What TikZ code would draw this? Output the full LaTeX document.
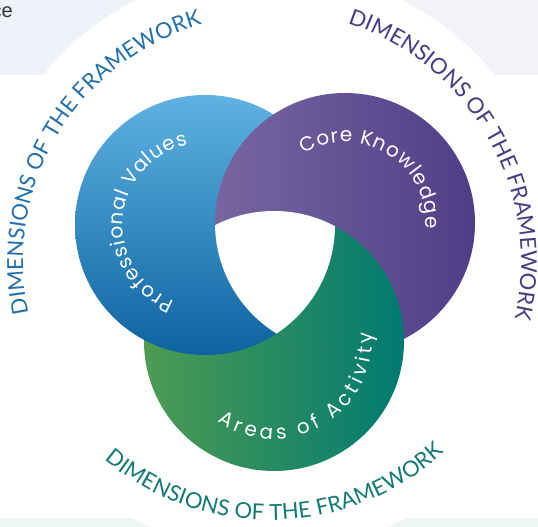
\documentclass[tikz,border=0pt]{standalone}
\usepackage{fontspec}
\setmainfont{Liberation Sans}
\newfontfamily\ringfont{Poppins}
\newfontfamily\dimfont{Lato}
\usetikzlibrary{decorations.text}
\definecolor{panelL}{HTML}{EDF3F9}
\definecolor{panelR}{HTML}{F3F2F8}
\definecolor{panelB}{HTML}{EDF6F4}
\definecolor{blueT}{HTML}{5FB2E2}
\definecolor{blueB}{HTML}{0C63A0}
\definecolor{purpL}{HTML}{7866A2}
\definecolor{purpR}{HTML}{4F3E86}
\definecolor{greenL}{HTML}{4E9B52}
\definecolor{greenR}{HTML}{007A72}
\definecolor{dimblue}{HTML}{2470AA}
\definecolor{dimpurple}{HTML}{4A3B82}
\definecolor{dimteal}{HTML}{137A74}
\definecolor{cegray}{HTML}{333333}
\tikzset{
  ringlabel/.style={decorate, decoration={text along path, text align={fit to path}, text color=white, text={|\ringfont\fontsize{20}{24}\selectfont|#1}}},
  dimlabel/.style 2 args={decorate, decoration={text along path, text align={fit to path}, text color=#1, text={|\dimfont\fontsize{22}{26}\selectfont|#2}}},
}
\begin{document}
\begin{tikzpicture}[x=1pt,y=1pt]
\useasboundingbox (0,0) rectangle (538,527);
\fill[white] (0,0) rectangle (538,527);
\fill[panelL] (0,452) rectangle (269,527);
\fill[panelR] (269,452) rectangle (538,527);
\fill[panelB] (0,0) rectangle (538,9);
\node[anchor=base east, inner sep=0pt, text=cegray, font=\fontsize{20}{22}\selectfont] (ce) at (13,509) {ce};
\fill[white] (269,267) circle (292);
\coordinate (B) at (205,302);
\coordinate (P) at (345,304);
\coordinate (G) at (274,186);
\coordinate (O) at (270,265);
% rings
\shade[left color=greenL, right color=greenR] (G) circle (130);
\shade[top color=blueT, bottom color=blueB] (B) circle (130);
\shade[left color=purpL, right color=purpR] (P) circle (130);
\begin{scope}
  \clip (P) circle (130);
  \shade[left color=greenL, right color=greenR] (G) circle (130);
\end{scope}
\begin{scope}
  \clip (P) circle (130);
  \clip (B) circle (130);
  \fill[white] (G) circle (130);
\end{scope}
% ring labels
\path[ringlabel={Professional Values}] ([shift={(248:82)}]B) arc[start angle=248, end angle=102, radius=82];
\path[ringlabel={Core Knowledge}] ([shift={(121:81)}]P) arc[start angle=121, end angle=-4, radius=81];
\path[ringlabel={Areas of Activity}] ([shift={(235:98)}]G) arc[start angle=235, end angle=365, radius=98];
% outer labels
\path[dimlabel={dimblue}{DIMENSIONS OF THE FRAMEWORK}] ([shift={(192:247)}]O) arc[start angle=192, end angle=106, radius=247];
\path[dimlabel={dimpurple}{DIMENSIONS OF THE FRAMEWORK}] ([shift={(72:251)}]O) arc[start angle=72, end angle=-13, radius=251];
\path[dimlabel={dimteal}{DIMENSIONS OF THE FRAMEWORK}] ([shift={(230:258)}]O) arc[start angle=230, end angle=312.5, radius=258];
\end{tikzpicture}
\end{document}
